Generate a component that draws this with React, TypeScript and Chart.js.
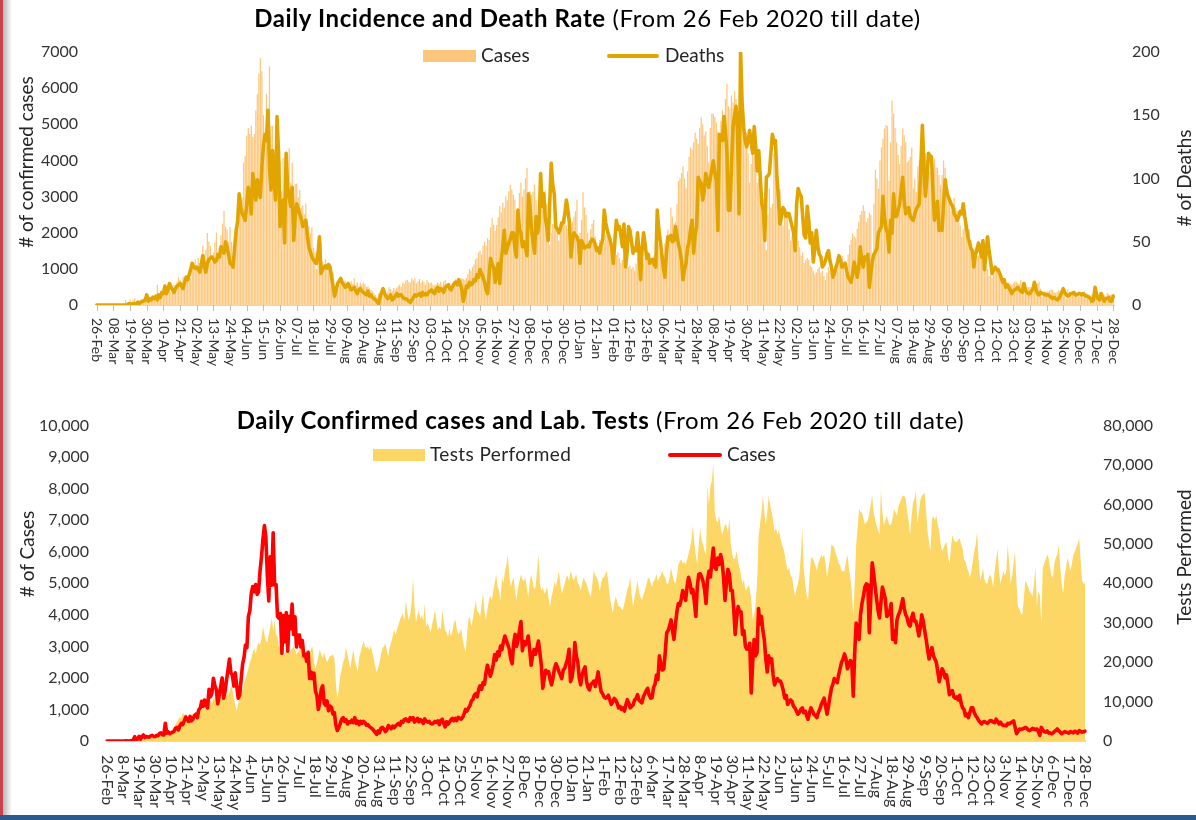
import React, { useEffect, useRef } from "react";
import { Chart, registerables } from "chart.js";

Chart.register(...registerables);

const FONT = "Lato, 'Noto Sans', sans-serif";
const TICK_STEP = 11;

const topTickLabels = ["26-Feb","08-Mar","19-Mar","30-Mar","10-Apr","21-Apr","02-May","13-May","24-May","04-Jun","15-Jun","26-Jun","07-Jul","18-Jul","29-Jul","09-Aug","20-Aug","31-Aug","11-Sep","22-Sep","03-Oct","14-Oct","25-Oct","05-Nov","16-Nov","27-Nov","08-Dec","19-Dec","30-Dec","10-Jan","21-Jan","01-Feb","12-Feb","23-Feb","06-Mar","17-Mar","28-Mar","08-Apr","19-Apr","30-Apr","11-May","22-May","02-Jun","13-Jun","24-Jun","05-Jul","16-Jul","27-Jul","07-Aug","18-Aug","29-Aug","09-Sep","20-Sep","01-Oct","12-Oct","23-Oct","03-Nov","14-Nov","25-Nov","06-Dec","17-Dec","28-Dec"];

const bottomTickLabels = ["26-Feb","8-Mar","19-Mar","30-Mar","10-Apr","21-Apr","2-May","13-May","24-May","4-Jun","15-Jun","26-Jun","7-Jul","18-Jul","29-Jul","9-Aug","20-Aug","31-Aug","11-Sep","22-Sep","3-Oct","14-Oct","25-Oct","5-Nov","16-Nov","27-Nov","8-Dec","19-Dec","30-Dec","10-Jan","21-Jan","1-Feb","12-Feb","23-Feb","6-Mar","17-Mar","28-Mar","8-Apr","19-Apr","30-Apr","11-May","22-May","2-Jun","13-Jun","24-Jun","5-Jul","16-Jul","27-Jul","7-Aug","18-Aug","29-Aug","9-Sep","20-Sep","1-Oct","12-Oct","23-Oct","3-Nov","14-Nov","25-Nov","6-Dec","17-Dec","28-Dec"];

// Daily confirmed cases, 26 Feb 2020 .. 28 Dec 2021
const dailyCases = [
0,0,0,1,0,1,0,0,0,0,1,
1,0,10,3,2,8,13,27,134,53,61,
150,60,140,190,110,140,130,120,160,180,145,
140,180,170,240,260,200,190,560,250,290,230,
260,280,310,400,430,350,480,560,520,640,760,
690,620,780,640,700,800,850,740,990,1050,1260,
1100,1300,1160,1050,1640,1400,1520,1990,1760,1630,1180,
1450,1730,2000,1360,1580,1930,2250,2600,2160,2090,1740,
2160,1750,1360,1450,1930,2430,2640,3040,2960,3940,4130,
4690,4900,4730,4960,4650,4730,5390,5830,6400,6830,6470,
5250,4440,5840,4940,6600,4950,4960,3950,3890,4040,2780,
3980,3140,4070,2850,3950,3560,4340,3380,3940,2980,3350,
3360,2980,3190,2700,2750,2520,2810,1980,2190,1980,2150,
1580,1450,1000,1230,1640,1750,1200,1130,1270,960,1110,
1070,850,900,510,330,420,550,690,740,620,680,
540,610,590,660,580,740,560,630,520,620,560,
620,580,500,520,460,420,390,330,280,210,320,
260,410,430,380,300,350,490,440,390,470,420,
480,520,560,500,620,590,680,700,640,620,740,
680,740,600,650,720,610,680,640,560,700,630,
600,620,560,540,570,620,590,640,520,650,690,
560,450,610,530,600,680,720,640,720,650,750,
720,690,750,860,1000,950,1050,1120,1270,1310,1450,
1500,1400,1640,1750,1640,1850,1800,2150,2400,2220,2050,
2210,2430,2740,2560,2830,2700,3010,2900,3150,3330,3190,
3050,2910,2600,2450,3100,3380,3000,3200,3500,3790,2860,
3150,3050,3130,3330,2900,2400,2700,2900,2750,2950,3170,
2800,2400,1670,2000,2240,2150,2200,1950,1780,2000,2300,
2450,2350,2200,2100,1980,2250,2300,2450,2600,2910,1880,
2000,2350,3120,2700,2500,2000,1780,2100,2250,2350,1900,
1700,1620,1800,1830,1900,1730,1950,2190,1850,1570,1500,
1400,1360,1380,1450,1300,1160,1250,1350,1300,1200,1050,
1100,1000,1050,950,1150,1310,1200,1050,1100,1150,1300,
1350,1470,1300,1250,1210,1400,1500,1600,1670,1450,1360,
1380,1700,1800,2090,1950,2700,2450,2250,2290,2800,3430,
3500,3650,3840,3500,3220,3700,4100,4360,4300,4500,4770,
4600,4460,4900,5190,5000,4700,4800,4400,3950,4900,5290,
5300,5200,5050,4800,4360,5100,5390,5200,5700,6120,5500,
5440,5800,5600,5910,5700,5200,4460,5000,5440,5300,4770,
4770,4200,3380,3900,4260,4100,4100,3380,3500,3000,2910,
2950,3100,1520,2500,3220,2700,2800,4200,3700,3950,3500,
3200,2600,2190,2700,2500,2600,2100,1780,1900,1980,1900,
1900,1780,1600,1360,1450,1160,1250,1300,1250,1100,1050,
950,850,900,1000,1050,900,950,800,690,900,1050,
950,850,800,740,900,1000,1150,1250,1360,1100,850,
1100,1400,1670,1800,1980,1900,1850,2100,2300,2500,2600,
2760,2600,2290,2400,2550,2500,1420,2800,3740,3500,3220,
4000,4360,4600,4880,4980,4950,3430,4500,5650,5300,4900,
4500,4150,3900,4400,4880,4700,4500,3950,4000,4100,4360,
3220,3500,3120,3840,4000,4100,4300,4510,4200,4000,3900,
3700,3640,3900,4050,3800,3800,3600,3330,3600,4000,3800,
3500,3220,2900,2600,2800,2960,2700,2600,2500,2200,1880,
2100,2290,2200,2000,2100,1800,1470,1550,1600,1400,1360,
1400,1300,1450,1200,1050,1000,800,850,740,900,1050,
1050,900,800,740,650,600,540,600,620,590,560,
600,650,640,600,580,690,620,540,600,520,490,
500,480,560,540,580,600,640,450,230,300,380,
360,380,400,430,410,350,330,360,400,380,360,
380,300,175,430,350,300,280,320,250,260,230,
250,300,330,380,320,280,230,260,300,280,270,
250,300,280,260,310,290,250,330,300,280,290,
310
];

// Daily deaths
const dailyDeaths = [
0,0,0,0,0,0,0,0,0,0,0,
0,0,0,0,0,0,0,0,0,0,1,
1,0,1,1,0,2,1,2,3,3,4,
8,3,5,4,6,5,7,4,8,6,10,
9,15,9,12,17,14,12,10,13,15,16,
17,15,13,18,22,20,24,28,33,30,29,
30,28,26,32,39,30,26,33,36,37,38,
36,34,35,40,38,46,44,41,50,46,40,
33,32,30,45,59,66,88,78,72,70,67,
80,93,85,72,104,95,83,99,90,85,110,
125,135,130,154,110,91,122,100,83,149,120,
62,75,83,49,120,93,85,78,93,51,70,
80,76,72,68,62,65,67,55,46,42,38,
36,34,33,40,54,25,28,30,31,29,32,
30,22,15,7,12,17,19,21,18,16,14,
15,17,14,12,13,14,11,9,12,13,11,
10,9,8,11,7,8,6,5,4,3,1,
6,10,13,9,7,5,6,8,4,5,7,
9,7,8,8,6,5,5,4,3,2,4,
6,8,7,8,9,7,10,8,9,8,10,
11,12,10,9,12,14,11,13,12,10,14,
15,16,13,12,15,17,18,16,20,17,12,
3,8,15,14,18,16,17,20,19,24,22,
28,25,22,18,12,9,24,37,32,30,18,
25,33,17,35,46,59,41,45,49,52,57,
57,45,38,75,60,57,46,50,45,39,88,
78,59,50,41,70,57,65,104,78,88,70,
62,51,80,112,95,88,62,60,57,60,65,
65,72,83,75,65,38,50,57,55,54,50,
33,51,48,45,46,47,46,50,52,51,48,
43,45,41,48,51,75,65,59,55,51,45,
33,50,67,60,62,55,46,64,30,40,62,
59,50,41,45,43,57,40,20,45,57,48,
37,40,33,35,36,32,30,75,60,51,40,
30,22,40,54,52,55,50,51,62,55,48,
43,35,20,28,33,45,50,60,67,41,55,
62,101,98,96,83,90,104,98,93,100,107,
114,105,98,59,135,132,130,149,138,120,75,
75,110,141,150,157,136,72,201,160,141,130,
125,130,138,128,120,141,125,106,122,101,80,
75,51,101,102,104,120,135,128,130,101,85,
64,70,77,75,70,72,72,67,62,57,43,
80,92,88,86,70,55,53,78,67,49,57,
34,45,59,46,40,38,30,32,35,40,43,
35,30,22,25,30,34,39,35,30,32,33,
27,22,20,18,25,34,28,22,30,46,35,
30,38,36,40,14,25,35,40,42,45,57,
60,62,86,70,60,57,42,67,57,88,70,
70,75,80,90,101,83,72,75,77,70,68,
67,72,76,78,80,110,142,110,86,100,120,
118,117,90,67,75,82,59,62,59,80,99,
90,86,83,80,78,72,70,67,70,74,72,
80,70,62,54,50,45,43,30,40,43,49,
45,38,51,28,40,54,43,35,25,28,30,
28,28,25,22,18,20,14,16,14,12,9,
11,12,13,14,12,11,10,17,12,10,9,
9,11,13,18,12,9,8,10,9,9,8,
8,8,7,6,5,6,5,4,5,7,10,
13,10,8,7,8,9,9,10,8,8,9,
9,8,9,8,7,7,6,5,3,4,14,
8,5,4,9,6,3,5,5,6,3,3,
7
];

// Daily laboratory tests performed
const testsPerformed = [
0,0,0,0,0,0,0,0,0,0,0,
50,60,80,100,120,150,200,250,300,350,400,
450,500,450,550,600,500,650,580,700,800,900,
900,1100,1200,1400,1300,1500,1700,1600,1800,1900,2200,
2500,3000,3500,4200,4800,5500,6000,5800,7200,6500,6900,
6200,5100,6000,6800,7000,6500,7500,8000,8400,8200,7800,
8500,9000,8800,9500,10900,10000,9800,10500,11000,12500,13400,
13000,12500,12000,13000,12800,12200,11700,12500,14000,13200,11000,
9000,7600,9500,11000,11700,13000,14500,16000,17000,18400,20000,
21000,22500,23500,22000,24000,25000,24500,26000,29100,27000,25500,
25000,27000,29000,31200,28000,30500,27000,26500,24000,23500,22000,
21500,22300,23000,22500,22300,22800,23500,24100,23000,22000,22500,
23000,24500,25000,23000,22500,21500,23300,22000,23300,24000,20000,
18400,19500,21500,23300,22000,21000,22500,21000,20000,20800,21500,
21600,22000,21000,15000,10900,13000,16500,18000,20000,21000,23700,
22000,20000,18400,21000,23300,20500,19000,17500,21000,22500,24000,
25400,24000,23500,24000,23000,24200,22500,21000,19000,17500,18500,
20000,22000,23500,24000,24800,23000,21500,24000,25000,26500,28300,
27000,28300,29500,30800,31500,32400,30500,35700,33000,30600,32000,
35000,41500,34000,30100,32000,33200,31000,32000,30500,34900,29000,
30000,29000,27500,29500,31000,33200,30500,28000,29000,28300,33200,
30500,28000,27500,26500,28500,26600,28000,30000,30800,28500,27000,
27500,28500,26000,24000,22500,27000,30800,31500,29000,31000,33200,
35700,33000,32500,31600,34500,37400,33000,30800,33500,35500,37000,
35700,38000,40000,42300,39000,38200,35700,41500,40000,43000,44800,
47300,42000,39100,40500,41500,38000,35700,39000,40500,42300,41000,
40500,41500,39000,36600,40000,42300,40500,38500,39100,43000,47300,
40000,38200,39000,37400,38000,39100,36000,34100,36500,38200,40500,
39100,41000,43200,40000,37400,38500,39900,41500,42000,40500,43200,
42000,40700,41500,42300,40000,39500,38200,40000,41500,40500,39900,
38500,37500,36600,40000,43200,42000,41500,40500,38000,39900,41500,
41500,42500,43200,40000,36600,34500,32400,35000,36600,35500,34100,
34100,33500,33200,35000,36600,38500,39500,41500,37000,34100,36500,
38500,40700,38000,36500,35700,37000,38200,39500,41000,41500,40000,
39100,40500,41000,42300,40500,41500,42000,43200,42000,41500,40000,
39900,41500,44000,42000,40500,39900,42000,44800,45500,46100,45000,
45500,44800,46000,47500,49000,51000,54700,50000,47000,44800,50000,
53900,51000,49800,48000,47300,64700,60000,64700,66000,70500,58100,
56000,55500,57200,54500,52300,53500,55000,54700,53000,56400,50000,
47300,46000,46500,48100,45500,43900,42000,39900,41000,38200,38600,
39500,38600,36000,30800,32000,34900,40000,51400,55000,57900,62200,
58000,54700,58000,62200,60000,58100,56000,53100,54000,52300,53500,
51400,50000,49000,47300,45000,43200,44000,42000,41500,39000,36600,
38500,39900,42000,47000,53900,44000,39900,37000,35700,42000,46500,
46500,45600,44500,43200,45000,46000,47300,46500,47300,45000,41500,
44000,46000,49800,49500,49000,47500,46500,45000,44500,43200,43000,
43200,45500,47300,44000,41500,38000,31600,40000,49800,54000,58900,
58000,57900,56500,55000,55500,56000,57900,60000,62200,58000,56000,
54700,53500,52300,63800,58000,54700,56000,57200,55500,54700,55000,
56500,58900,58000,57200,59500,60500,61400,62200,62200,61400,58100,
56000,52300,57000,60500,61500,63400,55300,58000,61000,62200,62500,
63000,58000,53100,50500,48100,56400,57000,56000,57200,55000,53100,
50000,48100,49000,50000,50500,47000,44800,49000,52300,51000,50500,
50500,51000,51400,50000,48900,46000,45500,44000,43000,41500,43000,
45600,48000,50000,53100,46000,40700,42000,43900,41000,40000,39900,
41500,42300,41000,39000,43000,46000,48900,43000,39900,41500,43200,
42000,43200,49800,45000,39900,42000,45000,48100,40000,34100,33500,
32400,32000,36000,40700,40000,39100,38000,37500,36600,40000,44000,
34100,38000,37000,29900,43900,45000,46000,47300,46500,44000,42000,
41500,45000,46500,47300,49800,44000,40000,37400,42000,44000,46500,
45000,43200,45000,47300,48000,49000,50000,51400,46000,40700,40000,
39900
];

const dayIndex = dailyCases.map((_, i) => i);

const TEXT = "#262626";
const TICK_TEXT = "#333333";

function xLabelPlugin(labels: string[], cfg: { gap: number; tick: number; size: number }) {
  return {
    id: "xDateLabels",
    afterDraw(chart: any) {
      const { ctx, chartArea } = chart;
      const xs = chart.scales.x;
      ctx.save();
      ctx.font = `${cfg.size}px ${FONT}`;
      ctx.fillStyle = TICK_TEXT;
      ctx.textAlign = "left";
      ctx.textBaseline = "middle";
      labels.forEach((lab, k) => {
        const x = xs.getPixelForValue(k * TICK_STEP);
        if (cfg.tick > 0) {
          const px = Math.round(x) + 0.5;
          ctx.strokeStyle = "#bfbfbf";
          ctx.lineWidth = 1;
          ctx.beginPath();
          ctx.moveTo(px, chartArea.bottom);
          ctx.lineTo(px, chartArea.bottom + cfg.tick);
          ctx.stroke();
        }
        ctx.save();
        ctx.translate(x, chartArea.bottom + cfg.gap);
        ctx.rotate(Math.PI / 2);
        ctx.fillText(lab, 0, 0);
        ctx.restore();
      });
      ctx.restore();
    },
  };
}

const yTickFont = { family: FONT, size: 16 };

export default function App() {
  const topRef = useRef<HTMLCanvasElement | null>(null);
  const botRef = useRef<HTMLCanvasElement | null>(null);

  useEffect(() => {
    const top = new Chart(topRef.current as HTMLCanvasElement, {
      type: "bar",
      data: {
        labels: dayIndex,
        datasets: [
          {
            type: "line",
            label: "Deaths",
            data: dailyDeaths,
            yAxisID: "y1",
            borderColor: "#E2A500",
            borderWidth: 3.6,
            pointRadius: 0,
            borderJoinStyle: "round",
            borderCapStyle: "round",
            tension: 0,
            order: 1,
          } as any,
          {
            type: "bar",
            label: "Cases",
            data: dailyCases,
            yAxisID: "y",
            backgroundColor: "#FCC77C",
            barPercentage: 0.82,
            categoryPercentage: 1,
            order: 2,
          },
        ],
      },
      options: {
        responsive: false,
        animation: false,
        layout: { padding: { top: 52, left: 0, right: 0, bottom: 0 } },
        plugins: { legend: { display: false }, tooltip: { enabled: false } },
        scales: {
          x: {
            type: "category",
            offset: true,
            ticks: { display: false },
            grid: { display: false, drawTicks: false },
            border: { display: true, color: "#d9d9d9", width: 1 },
            afterFit: (s: any) => { s.height = 90; },
          },
          y: {
            position: "left",
            min: 0,
            max: 7000,
            ticks: { stepSize: 1000, font: yTickFont, color: TICK_TEXT, padding: 18, callback: (v: any) => String(v) },
            grid: { display: false, drawTicks: false },
            border: { display: false },
            afterFit: (s: any) => { s.width = 96; },
          },
          y1: {
            position: "right",
            min: 0,
            max: 200,
            ticks: { stepSize: 50, font: yTickFont, color: TICK_TEXT, padding: 18, callback: (v: any) => String(v) },
            grid: { display: false, drawTicks: false },
            border: { display: false },
            afterFit: (s: any) => { s.width = 82; },
          },
        },
      } as any,
      plugins: [xLabelPlugin(topTickLabels, { gap: 13, tick: 6, size: 14 })],
    });

    const bottom = new Chart(botRef.current as HTMLCanvasElement, {
      type: "line",
      data: {
        labels: dayIndex,
        datasets: [
          {
            label: "Cases",
            data: dailyCases,
            yAxisID: "y",
            borderColor: "#FF0000",
            borderWidth: 3.6,
            pointRadius: 0,
            borderJoinStyle: "round",
            borderCapStyle: "round",
            tension: 0,
            fill: false,
            order: 1,
          },
          {
            label: "Tests Performed",
            data: testsPerformed,
            yAxisID: "y1",
            borderColor: "rgba(0,0,0,0)",
            borderWidth: 0,
            backgroundColor: "#FDD766",
            pointRadius: 0,
            fill: "origin",
            tension: 0,
            order: 2,
          },
        ],
      },
      options: {
        responsive: false,
        animation: false,
        layout: { padding: { top: 20, left: 0, right: 0, bottom: 0 } },
        plugins: { legend: { display: false }, tooltip: { enabled: false } },
        scales: {
          x: {
            type: "category",
            offset: false,
            ticks: { display: false },
            grid: { display: false, drawTicks: false },
            border: { display: true, color: "#d9d9d9", width: 2 },
            afterFit: (s: any) => { s.height = 79; },
          },
          y: {
            position: "left",
            min: 0,
            max: 10000,
            ticks: { stepSize: 1000, font: yTickFont, color: TICK_TEXT, padding: 18 },
            grid: { display: false, drawTicks: false },
            border: { display: false },
            afterFit: (s: any) => { s.width = 107; },
          },
          y1: {
            position: "right",
            min: 0,
            max: 80000,
            ticks: { stepSize: 10000, font: yTickFont, color: TICK_TEXT, padding: 18 },
            grid: { display: false, drawTicks: false },
            border: { display: false },
            afterFit: (s: any) => { s.width = 111; },
          },
        },
      } as any,
      plugins: [xLabelPlugin(bottomTickLabels, { gap: 14, tick: 0, size: 16 })],
    });

    return () => {
      top.destroy();
      bottom.destroy();
    };
  }, []);

  const abs = (o: React.CSSProperties): React.CSSProperties => ({ position: "absolute", ...o });
  const rotTitle = (text: string, cx: number, cy: number, size: number) => (
    <div
      style={abs({
        left: cx,
        top: cy,
        transform: "translate(-50%, -50%) rotate(-90deg)",
        whiteSpace: "nowrap",
        fontSize: size,
        lineHeight: `${size}px`,
        color: TEXT,
      })}
    >
      {text}
    </div>
  );

  const titleStyle = (top: number, width: number): React.CSSProperties =>
    abs({ left: 0, width, top, textAlign: "center", fontSize: 24, lineHeight: "24px", letterSpacing: "0.6px", color: "#000", whiteSpace: "nowrap" });

  return (
    <div style={abs({ left: 0, top: 0, width: 1196, height: 820, background: "#fff", overflow: "hidden", fontFamily: FONT })}>
      <div style={abs({ left: 0, top: 0, width: 1196, height: 395 })}>
        <canvas ref={topRef} width={1196} height={395} style={{ display: "block" }} />
      </div>
      <div style={abs({ left: 0, top: 398, width: 1196, height: 422 })}>
        <canvas ref={botRef} width={1196} height={422} style={{ display: "block" }} />
      </div>

      {/* titles */}
      <div style={titleStyle(6, 1175)}>
        <b>Daily Incidence and Death Rate</b> (From 26 Feb 2020 till date)
      </div>
      <div style={titleStyle(408, 1201)}>
        <b>Daily Confirmed cases and Lab. Tests</b> (From 26 Feb 2020 till date)
      </div>

      {/* legend top */}
      <div style={abs({ left: 423, top: 50, width: 53, height: 12, background: "#FCC77C" })} />
      <div style={abs({ left: 481, top: 45, fontSize: 19, lineHeight: "19px", color: TEXT })}>Cases</div>
      <div style={abs({ left: 607, top: 54, width: 52, height: 3.6, background: "#E2A500", borderRadius: 2 })} />
      <div style={abs({ left: 665, top: 45, fontSize: 19, lineHeight: "19px", color: TEXT })}>Deaths</div>

      {/* legend bottom */}
      <div style={abs({ left: 373, top: 449, width: 52, height: 12, background: "#FDD766" })} />
      <div style={abs({ left: 430, top: 444, fontSize: 19, lineHeight: "19px", letterSpacing: "0.4px", color: TEXT })}>Tests Performed</div>
      <div style={abs({ left: 668, top: 453, width: 54, height: 3.6, background: "#FF0000", borderRadius: 2 })} />
      <div style={abs({ left: 727, top: 444, fontSize: 19, lineHeight: "19px", color: TEXT })}>Cases</div>

      {/* axis titles */}
      {rotTitle("# of confirmed cases", 25, 162, 19)}
      {rotTitle("# of Deaths", 1183, 178, 19)}
      {rotTitle("# of Cases", 26, 554, 19)}
      {rotTitle("Tests Performed", 1183, 557, 19)}

      {/* frame decorations */}
      <div style={abs({ left: 0, top: 0, width: 3, height: 820, background: "#C8424F" })} />
      <div style={abs({ left: 3, top: 0, width: 9, height: 820, background: "linear-gradient(to right, rgba(120,120,120,0.55), rgba(255,255,255,0))" })} />
      <div style={abs({ left: 0, top: 815, width: 1196, height: 5, background: "#2B5B8C" })} />
    </div>
  );
}
